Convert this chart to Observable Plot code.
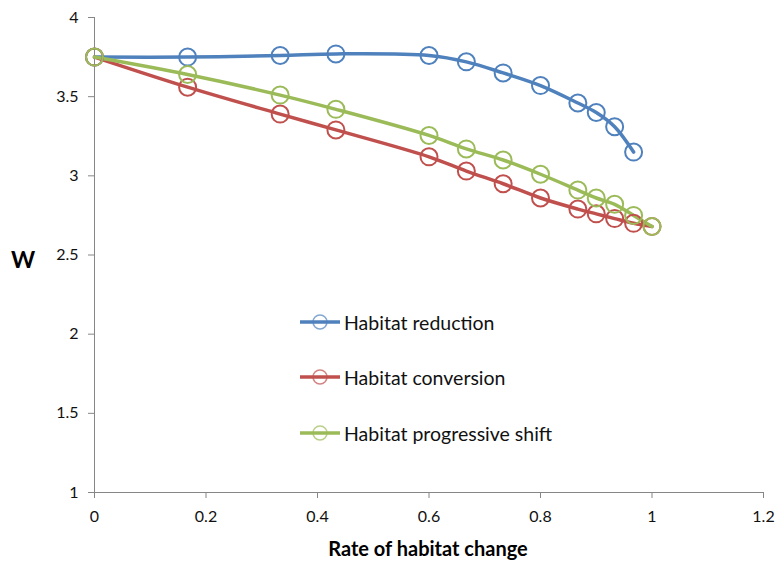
<!DOCTYPE html>
<html>
<head>
<meta charset="utf-8">
<script src="https://cdn.jsdelivr.net/npm/d3@7"></script>
<script src="https://cdn.jsdelivr.net/npm/@observablehq/plot@0.6"></script>
<style>
  body { margin: 0; background: #fff; }
  #wrap { position: relative; width: 778px; height: 566px; font-family: Lato, "Open Sans", sans-serif; }
  .ttl { position: absolute; font-weight: bold; color: #000; white-space: nowrap; }
  .leg { position: absolute; left: 299px; display: flex; align-items: center; font-size: 19.5px; color: #111; white-space: nowrap; }
  .leg svg { margin-right: 3px; }
</style>
</head>
<body>
<div id="wrap"></div>
<script>
const seriesNames = ["Habitat reduction", "Habitat conversion", "Habitat progressive shift"];
const colors = ["#4F81BD", "#C0504D", "#9BBB59"];

const xReduction = [0, 0.167, 0.333, 0.433, 0.6, 0.667, 0.733, 0.8, 0.867, 0.9, 0.933, 0.967];
const yReduction = [3.75, 3.75, 3.76, 3.77, 3.76, 3.72, 3.65, 3.57, 3.46, 3.40, 3.31, 3.15];

const xConversion = [0, 0.167, 0.333, 0.433, 0.6, 0.667, 0.733, 0.8, 0.867, 0.9, 0.933, 0.967, 1.0];
const yConversion = [3.75, 3.56, 3.39, 3.29, 3.12, 3.03, 2.95, 2.86, 2.79, 2.76, 2.73, 2.70, 2.68];

const xShift = [0, 0.167, 0.333, 0.433, 0.6, 0.667, 0.733, 0.8, 0.867, 0.9, 0.933, 0.967, 1.0];
const yShift = [3.75, 3.64, 3.51, 3.42, 3.255, 3.17, 3.10, 3.01, 2.91, 2.86, 2.82, 2.75, 2.68];

const xTicks = [0, 0.2, 0.4, 0.6, 0.8, 1, 1.2];
const yTicks = [1, 1.5, 2, 2.5, 3, 3.5, 4];

const xTitle = "Rate of habitat change";
const yTitle = "W";

const series = [
  {name: seriesNames[0], xs: xReduction, ys: yReduction},
  {name: seriesNames[1], xs: xConversion, ys: yConversion},
  {name: seriesNames[2], xs: xShift, ys: yShift}
];
const data = series.flatMap(s => s.xs.map((x, i) => ({series: s.name, x, y: s.ys[i]})));

const fmt = d => String(+d.toFixed(2));
const axisGray = "#868686";
const chart = Plot.plot({
  width: 778,
  height: 566,
  marginLeft: 94,
  marginRight: 15,
  marginTop: 17,
  marginBottom: 74,
  style: {fontFamily: "Lato, 'Open Sans', sans-serif", fontSize: "16px", color: "#111", background: "#fff"},
  x: {domain: [0, 1.2], ticks: xTicks, label: null},
  y: {domain: [1, 4], ticks: yTicks, label: null},
  color: {domain: seriesNames, range: colors},
  marks: [
    Plot.axisX({ticks: xTicks, tickFormat: fmt, tickSize: 6, stroke: axisGray, tickPadding: 12, fontSize: 16, fill: "#111", label: null}),
    Plot.axisY({ticks: yTicks, tickFormat: fmt, tickSize: 6, stroke: axisGray, tickPadding: 10, fontSize: 16, fill: "#111", label: null}),
    Plot.ruleX([0], {stroke: axisGray}),
    Plot.ruleY([1], {stroke: axisGray}),
    Plot.line(data, {x: "x", y: "y", z: "series", stroke: "series", strokeWidth: 3.5, curve: "catmull-rom"}),
    Plot.dot(data, {x: "x", y: "y", stroke: "series", fill: "none", r: 8.5, strokeWidth: 2})
  ]
});

const wrap = document.getElementById("wrap");
wrap.appendChild(chart);

const yt = document.createElement("div");
yt.className = "ttl";
yt.textContent = yTitle;
yt.style.left = "11px";
yt.style.top = "245px";
yt.style.fontSize = "23px";
wrap.appendChild(yt);

const xt = document.createElement("div");
xt.className = "ttl";
xt.textContent = xTitle;
xt.style.left = "0px";
xt.style.width = "856px";
xt.style.textAlign = "center";
xt.style.top = "536px";
xt.style.fontSize = "20px";
wrap.appendChild(xt);

const legTops = [309, 364, 420];
seriesNames.forEach((name, i) => {
  const d = document.createElement("div");
  d.className = "leg";
  d.style.top = legTops[i] + "px";
  d.innerHTML = `<svg width="42" height="26"><line x1="1" y1="13" x2="41" y2="13" stroke="${colors[i]}" stroke-width="3.5"/><circle cx="21" cy="13" r="7" fill="none" stroke="${colors[i]}" stroke-opacity="0.7" stroke-width="1.5"/></svg><span>${name}</span>`;
  wrap.appendChild(d);
});
</script>
</body>
</html>
